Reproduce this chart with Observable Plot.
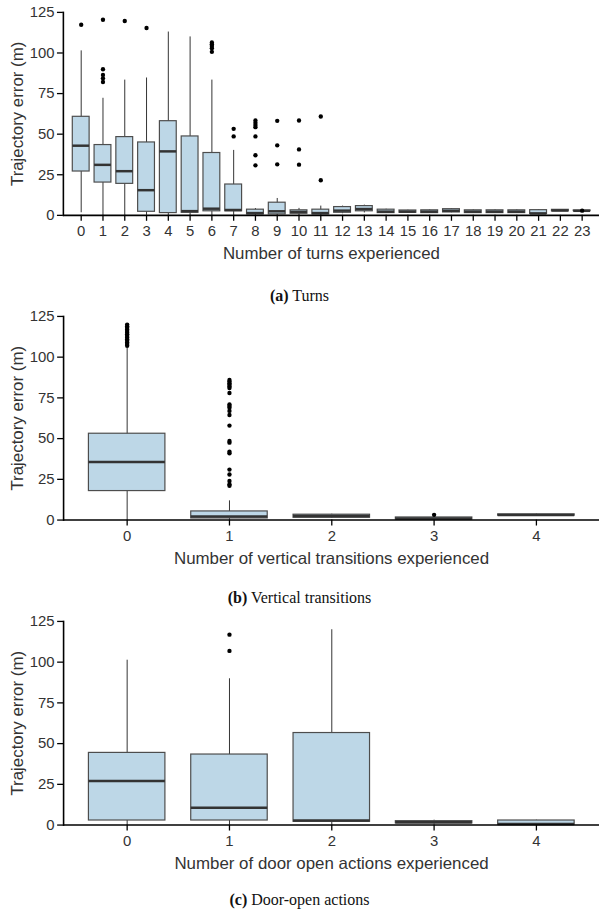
<!DOCTYPE html>
<html>
<head>
<meta charset="utf-8">
<script src="https://cdn.jsdelivr.net/npm/d3@7"></script>
<script src="https://cdn.jsdelivr.net/npm/@observablehq/plot@0.6"></script>
<style>
  html, body { margin: 0; padding: 0; background: white; }
  body { width: 599px; height: 913px; overflow: hidden; position: relative; }
  .panel { position: absolute; left: 0; }
  .caption { position: absolute; left: 0; width: 599px; text-align: center;
    font-family: "Liberation Serif", "Times New Roman", serif; font-size: 16px; color: #111; line-height: 20px; }
  g[aria-label="x-axis label"] text, g[aria-label="y-axis label"] text { font-size: 17px; }
</style>
</head>
<body>
<div id="pa" class="panel" style="top:2px"></div>
<div class="caption" style="top:286px"><b>(a)</b> Turns</div>
<div id="pb" class="panel" style="top:305.7px"></div>
<div class="caption" style="top:588px"><b>(b)</b> Vertical transitions</div>
<div id="pc" class="panel" style="top:611px"></div>
<div class="caption" style="top:890px"><b>(c)</b> Door-open actions</div>
<script>
// ---- Data: (a) turns ----
const turnsCats = ["0","1","2","3","4","5","6","7","8","9","10","11","12","13","14","15","16","17","18","19","20","21","22","23"];
const turnsQ1  = [27.0,20.2,19.4,2.2,1.4,1.6,2.5,2.5,0.6,0.6,1.0,0.6,1.6,2.5,1.4,1.6,1.4,1.8,1.4,1.4,1.4,0.9,2.5,2.6];
const turnsMed = [42.9,31.1,27.2,15.5,39.4,2.6,4.1,3.3,1.4,2.5,2.1,1.4,2.9,3.9,2.3,2.3,2.3,2.8,2.3,2.3,2.3,1.2,3.0,2.8];
const turnsQ3  = [60.7,43.3,48.2,44.9,58.0,48.6,38.4,19.0,3.5,7.8,3.1,3.5,5.1,5.7,3.5,3.0,3.1,3.8,3.1,3.1,3.1,3.2,3.4,3.0];
const turnsLo  = [1.6,0,0,0,0,0,0,0,0,0,0,0,1.0,1.5,1.2,1.4,1.2,1.6,1.2,1.2,1.2,0.8,2.4,2.6];
const turnsHi  = [101.3,72.1,83.3,84.6,112.9,109.9,83.3,40.0,4.2,10.4,4.3,5.7,5.7,6.3,3.8,3.2,3.4,4.1,3.4,3.4,3.4,3.4,3.5,3.1];
const turnsOutCat = ["0","1","1","1","1","1","2","3","6","6","6","6","6","7","7","8","8","8","8","8","8","8","9","9","9","10","10","10","11","11","23"];
const turnsOutVal = [117.4,120.5,90,86.5,84.4,82.1,119.7,115.4,106.5,105.4,104.3,102.9,100.7,53.3,48.6,58.4,57,55.6,54.3,48.6,37,30.8,58.2,43.1,31.4,58.4,40.6,31.2,60.9,21.6,2.9];

// ---- Data: (b) vertical transitions ----
const vertCats = ["0","1","2","3","4"];
const vertQ1  = [17.8,1.0,1.4,0.3,2.7];
const vertMed = [35.7,2.2,2.5,1.0,3.1];
const vertQ3  = [53.0,5.3,3.3,1.6,3.5];
const vertLo  = [0,0,1.0,0,2.5];
const vertHi  = [105.5,11.8,3.6,2.0,3.7];
const vertOutCat = ["0","0","0","0","0","0","0","0","0","0","0","0","0","0",
  "1","1","1","1","1","1","1","1","1","1","1","1","1","1","1","1","1","1","1","1","1","1","3"];
const vertOutVal = [120,119,118,117,116,115,114,113,112,111,110,109,108,107,
  86,85,84,83,82,81,78,71,70,69,67,64.5,58,48.5,47.5,42,41,31,28,24,22,21,3.2];

// ---- Data: (c) door-open actions ----
const doorCats = ["0","1","2","3","4"];
const doorQ1  = [2.8,2.8,2.0,1.0,0.2];
const doorMed = [27.0,10.6,2.8,1.7,0.6];
const doorQ3  = [44.3,43.3,56.5,2.4,2.8];
const doorLo  = [0,0,0,0.5,0];
const doorHi  = [101.2,89.8,119.9,3.0,3.0];
const doorOutCat = ["1","1"];
const doorOutVal = [116.9,106.9];

const yTicks = [0,25,50,75,100,125];

function panel(cats, q1, med, q3, lo, hi, outCat, outVal, xLabel, width) {
  const boxes = cats.map((c, i) => ({cat: c, q1: q1[i], med: med[i], q3: q3[i], lo: lo[i], hi: hi[i]}));
  const outs = outCat.map((c, i) => ({cat: c, v: outVal[i]}));
  return Plot.plot({
    width, height: 265,
    marginLeft: 63.5, marginRight: 0, marginTop: 10, marginBottom: 50,
    style: {fontFamily: "Liberation Sans, Arial, sans-serif", fontSize: "15px", color: "#333", background: "white", overflow: "visible"},
    x: {type: "band", domain: cats, paddingInner: 0.25, paddingOuter: 0.225},
    y: {domain: [0, 125]},
    marks: [
      Plot.axisX({tickSize: 6, tickPadding: 4, stroke: "black", strokeWidth: 1.3, label: xLabel, labelAnchor: "center", labelOffset: 44, labelArrow: "none"}),
      Plot.axisY({ticks: yTicks, tickSize: 6, tickPadding: 3, stroke: "black", strokeWidth: 1.3, label: "Trajectory error (m)", labelAnchor: "center", labelOffset: 53, labelArrow: "none"}),
      Plot.ruleX(boxes, {x: "cat", y1: "lo", y2: "hi", stroke: "#333", strokeWidth: 1}),
      Plot.barY(boxes, {x: "cat", y1: "q1", y2: "q3", fill: "#bdd7e7", stroke: "#4d4d4d", strokeWidth: 1.2}),
      Plot.tickY(boxes, {x: "cat", y: "med", stroke: "#333", strokeWidth: 2.5}),
      Plot.dot(outs, {x: "cat", y: "v", r: 2.2, fill: "black", stroke: "none"}),
      Plot.frame({anchor: "left", stroke: "black", strokeWidth: 1.6}),
      Plot.ruleY([0], {stroke: "black", strokeWidth: 1.6})
    ]
  });
}

document.getElementById("pa").append(panel(turnsCats, turnsQ1, turnsMed, turnsQ3, turnsLo, turnsHi, turnsOutCat, turnsOutVal, "Number of turns experienced", 605));
document.getElementById("pb").append(panel(vertCats, vertQ1, vertMed, vertQ3, vertLo, vertHi, vertOutCat, vertOutVal, "Number of vertical transitions experienced", 603));
document.getElementById("pc").append(panel(doorCats, doorQ1, doorMed, doorQ3, doorLo, doorHi, doorOutCat, doorOutVal, "Number of door open actions experienced", 603));
</script>
</body>
</html>
